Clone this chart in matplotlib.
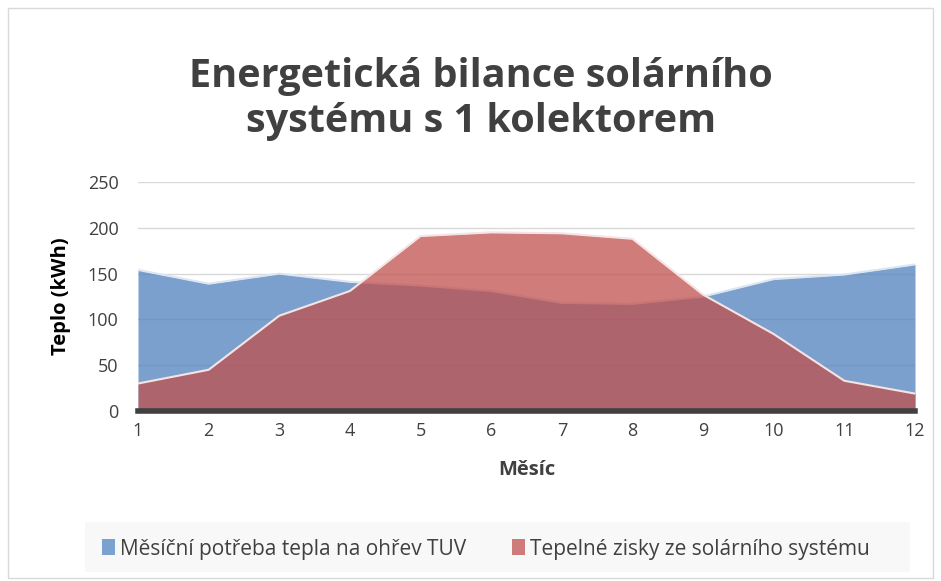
import matplotlib.pyplot as plt
from matplotlib.patches import Rectangle

months = [1, 2, 3, 4, 5, 6, 7, 8, 9, 10, 11, 12]
demand = [154, 139, 150, 141, 137, 131, 118, 117, 125, 144, 149, 160]
solar = [30, 45, 104, 131, 191, 195, 194, 188, 127, 84, 33, 19]
yticks = [0, 50, 100, 150, 200, 250]

plt.rcParams["font.family"] = ["Open Sans", "DejaVu Sans"]

fig = plt.figure(figsize=(9.41, 5.81), dpi=100)
fig.patches.append(Rectangle((0.009, 0.005), 0.982, 0.982, transform=fig.transFigure,
                             fill=False, edgecolor="#D9D9D9", linewidth=1))

ax = fig.add_axes([138 / 941, 1 - 411 / 581, (915 - 138) / 941, (411 - 182) / 581])

ax.fill_between(months, demand, color="#4F81BD", alpha=0.75, linewidth=0, zorder=2)
ax.plot(months, demand, color="#DCE6F2", linewidth=1.5, zorder=3)
ax.fill_between(months, solar, color="#C0504D", alpha=0.75, linewidth=0, zorder=4)
ax.plot(months, solar, color="#F5E4E4", linewidth=1.5, zorder=5)

ax.set_xlim(1, 12)
ax.set_ylim(0, 250)
ax.set_xticks(months)
ax.set_yticks(yticks)
ax.grid(axis="y", color="#D9D9D9", linewidth=1, zorder=0)
ax.set_axisbelow(True)
for s in ["top", "right", "left"]:
    ax.spines[s].set_visible(False)
ax.spines["bottom"].set_color("#404040")
ax.spines["bottom"].set_linewidth(4)
ax.spines["bottom"].set_zorder(6)
ax.tick_params(axis="both", length=0, labelsize=13, colors="#404040", pad=8)
ax.tick_params(axis="y", pad=14)

ax.set_xlabel("Měsíc", fontsize=14.5, fontweight="bold", color="#404040", labelpad=14)
ax.set_ylabel("Teplo (kWh)", fontsize=14.5, fontweight="bold", color="#000000", labelpad=12)

fig.text(481 / 941, 1 - 99 / 581, "Energetická bilance solárního\nsystému s 1 kolektorem",
         ha="center", va="center", fontsize=28.5, fontweight="bold", color="#404040",
         linespacing=1.2)

fig.patches.append(Rectangle((85 / 941, 1 - 572 / 581), (910 - 85) / 941, 50 / 581,
                             transform=fig.transFigure, facecolor="#F8F8F8",
                             edgecolor="none"))
handles = [Rectangle((0, 0), 1, 1, facecolor="#7BA1CE"),
           Rectangle((0, 0), 1, 1, facecolor="#CE7C7A")]
fig.legend(handles, ["Měsíční potřeba tepla na ohřev TUV", "Tepelné zisky ze solárního systému"],
           loc="center", bbox_to_anchor=(486 / 941, 1 - 549 / 581), ncol=2, frameon=False,
           fontsize=15, handlelength=0.6, handleheight=0.8, handletextpad=0.25,
           columnspacing=2.2, labelcolor="#404040")

fig.savefig("out.png", dpi=100)
